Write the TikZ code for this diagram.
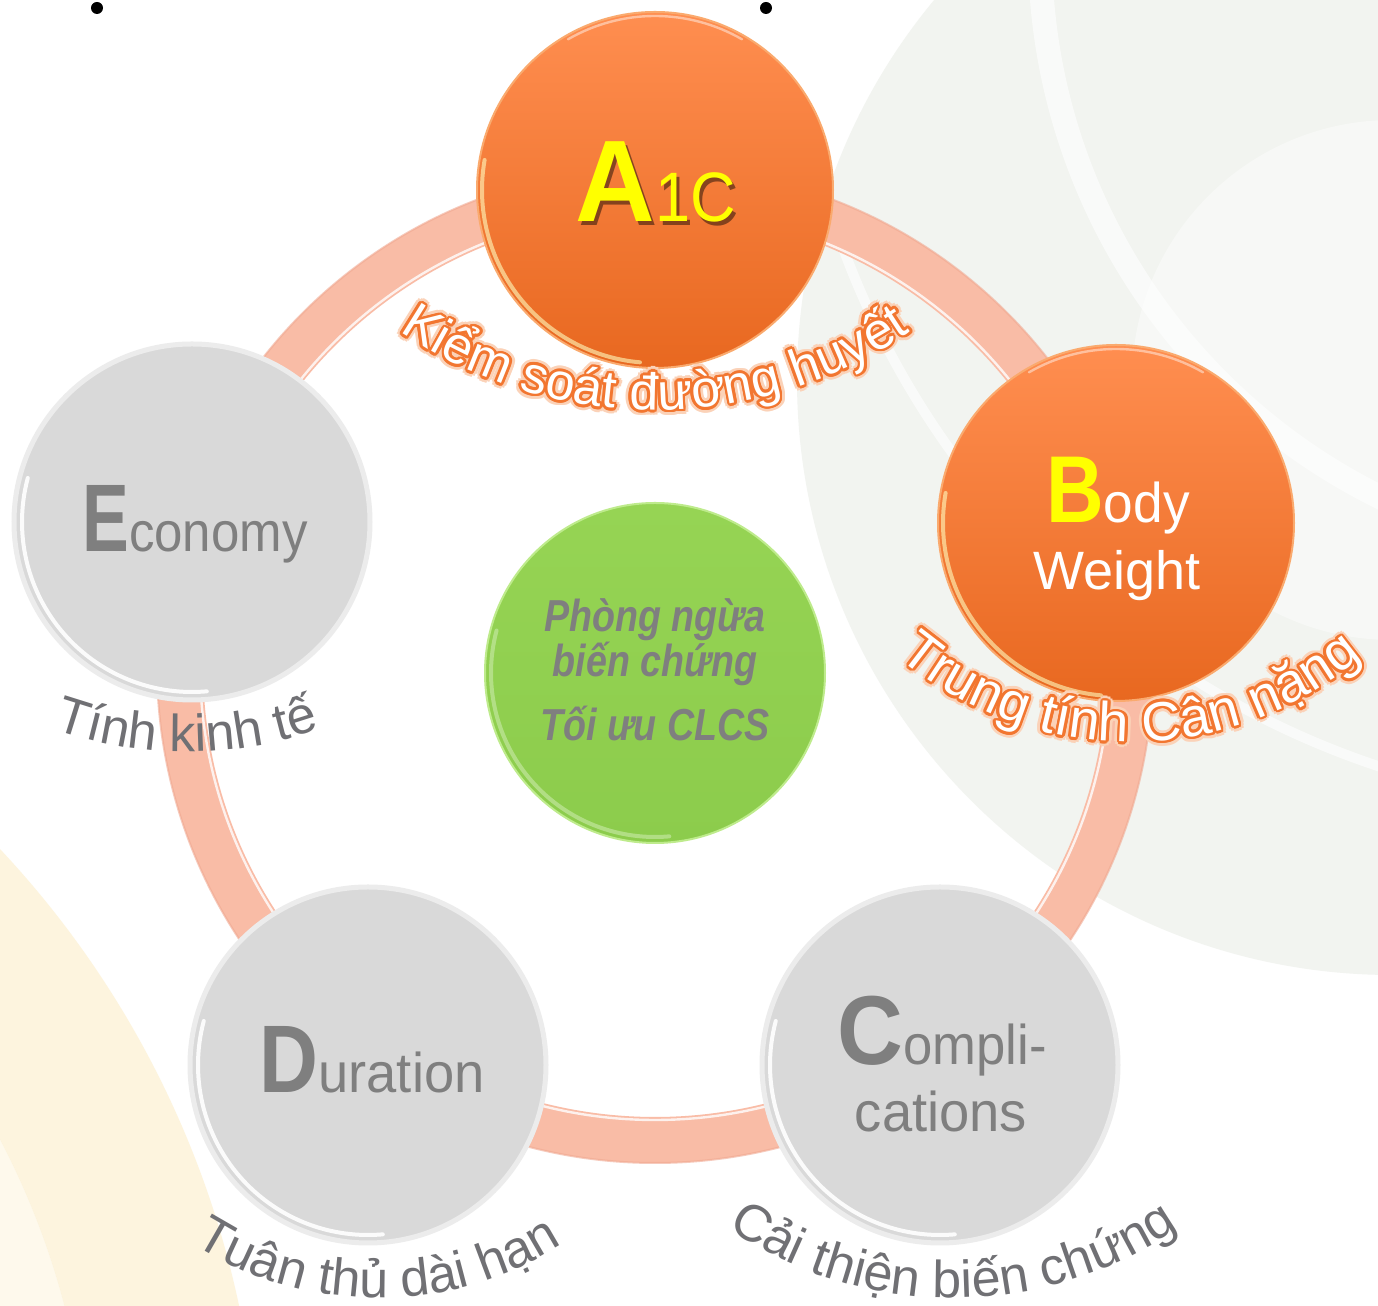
\documentclass[tikz,border=0pt]{standalone}
\usepackage{fontspec}
\setmainfont{Liberation Sans}
\usepackage{graphicx}
\usetikzlibrary{decorations.text}
\definecolor{ringc}{RGB}{249,188,166}
\definecolor{ringd}{RGB}{240,168,145}
\definecolor{orTop}{RGB}{255,142,80}
\definecolor{orBot}{RGB}{232,104,32}
\definecolor{orRim}{RGB}{250,170,110}
\definecolor{greyball}{RGB}{217,217,217}
\definecolor{greyRim}{RGB}{236,236,236}
\definecolor{greytext}{RGB}{127,127,127}
\definecolor{gnTop}{RGB}{150,212,84}
\definecolor{gnBot}{RGB}{140,204,76}
\definecolor{gnRim}{RGB}{190,235,140}
\definecolor{outl}{RGB}{242,118,48}
\definecolor{glowc}{RGB}{251,210,184}
\definecolor{arctext}{RGB}{112,112,116}
\definecolor{bgA}{RGB}{242,244,240}
\definecolor{bgY}{RGB}{252,234,190}
\definecolor{yel}{RGB}{255,255,0}
\newcommand\cf{\fontsize{26}{26}\selectfont}
\newcommand\outlinedarc[5]{%
  \foreach \aa in {0,30,...,330}{
    \path[decorate, decoration={text along path, text align=center, text color=glowc, text={|\cf|#5}}] ([shift={(\aa:5.5)}]#1) ++(#3:#2) arc[start angle=#3, end angle=#4, radius=#2];
  }
  \foreach \aa in {0,22.5,...,337.5}{
    \path[decorate, decoration={text along path, text align=center, text color=outl, text={|\cf|#5}}] ([shift={(\aa:2.6)}]#1) ++(#3:#2) arc[start angle=#3, end angle=#4, radius=#2];
  }
  \path[decorate, decoration={text along path, text align=center, text color=white, text={|\cf|#5}}] (#1) ++(#3:#2) arc[start angle=#3, end angle=#4, radius=#2];
}
\newcommand\greyarc[5]{%
  \path[decorate, decoration={text along path, text align=center, text color=arctext, text={|\cf|#5}}] (#1) ++(#3:#2) arc[start angle=#3, end angle=#4, radius=#2];
}
\begin{document}
\begin{tikzpicture}[x=0.5pt,y=0.5pt,
  ball/.style={circle, inner sep=0pt, minimum size=178pt},
  orball/.style={ball, top color=orTop, bottom color=orBot, draw=orRim, line width=1pt},
  grball/.style={ball, fill=greyball, draw=greyRim, line width=2.5pt},
  gnball/.style={ball, minimum size=170pt, top color=gnTop, bottom color=gnBot, draw=gnRim, line width=1pt},
  gloss/.style={line width=2pt, draw opacity=.6, line cap=round},
  lbl/.style={anchor=base, inner sep=0pt}]
\useasboundingbox (0,0) rectangle (1378,1306);
\fill[white] (0,0) rectangle (1378,1306);
% background decoration
\begin{scope}
\clip (0,0) rectangle (1378,1306);
\coordinate (bgc) at (1392,926);
\fill[bgA] (bgc) circle[radius=595];
\begin{scope}
\clip (bgc) circle[radius=595];
\draw[white, line width=12pt, draw opacity=.6] (1650,1356) circle[radius=610];
\draw[white, line width=5pt, draw opacity=.6] (1650,1356) circle[radius=860];
\fill[white, opacity=.4] (1392,926) circle[radius=260];
\end{scope}
\coordinate (byc) at (-700,-200);
\fill[bgY, opacity=.5, even odd rule] (byc) circle[radius=960] (byc) circle[radius=790];
\fill[bgY, opacity=.28] (byc) circle[radius=790];
\end{scope}
% dots
\fill[black] (97,1298) circle[radius=6];
\fill[black] (766,1298) circle[radius=6];
% ring
\coordinate (O) at (655,641);
\draw[ringc, line width=23pt] (O) circle[radius=475];
\draw[ringd, line width=1pt, draw opacity=.6] (O) circle[radius=498];
\draw[white, line width=1.2pt, draw opacity=.8] (O) circle[radius=455];
% balls
\node[orball] (A) at (655,1116) {};
\node[orball] (B) at (1116,783) {};
\node[grball] (E) at (192,784) {};
\node[grball] (D) at (368,241) {};
\node[grball] (C) at (940,241) {};
\node[gnball] (G) at (655,633) {};
% gloss highlights
\foreach \n in {A,B}{
  \draw[gloss, white!75!yellow] (\n) ++(170:173) arc[start angle=170, end angle=265, radius=173];
  \draw[gloss, white, line width=1.2pt, draw opacity=.45] (\n) ++(60:174) arc[start angle=60, end angle=120, radius=174];
}
\foreach \n in {E,D,C}{
  \draw[gloss, white, draw opacity=.9] (\n) ++(165:170) arc[start angle=165, end angle=275, radius=170];
}
\draw[gloss, white!50!gnTop] (G) ++(165:164) arc[start angle=165, end angle=275, radius=164];
% ball texts
\node[lbl, text=black, opacity=.45] at (659,1080) {\scalebox{.95}[1]{\fontsize{58}{58}\selectfont\bfseries A}\scalebox{.9}[1]{\fontsize{35}{35}\selectfont 1C}};
\node[lbl, text=yel] (tA) at (656,1084) {\scalebox{.95}[1]{\fontsize{58}{58}\selectfont\bfseries A}\scalebox{.9}[1]{\fontsize{35}{35}\selectfont 1C}};
\node[lbl, text=white] (tB1) at (1118,783) {\textcolor{yel}{\scalebox{.84}[1]{\fontsize{47.5}{47.5}\selectfont\bfseries B}}\scalebox{.95}[1]{\fontsize{28}{28}\selectfont ody}};
\node[lbl, text=white] (tB2) at (1117,716) {\fontsize{27}{27}\selectfont Weight};
\node[lbl, text=greytext] (tE) at (195,754) {\scalebox{.73}[1]{\fontsize{48}{48}\selectfont\bfseries E}\scalebox{.91}[1]{\fontsize{28}{28}\selectfont conomy}};
\node[lbl, text=greytext] (tD) at (372,213) {\scalebox{.85}[1]{\fontsize{48}{48}\selectfont\bfseries D}\scalebox{.97}[1]{\fontsize{28}{28}\selectfont uration}};
\node[lbl, text=greytext] (tC1) at (942,241) {\scalebox{.93}[1]{\fontsize{49}{49}\selectfont\bfseries C}\scalebox{.94}[1]{\fontsize{28}{28}\selectfont ompli-}};
\node[lbl, text=greytext] (tC2) at (941,174) {\scalebox{.97}[1]{\fontsize{28}{28}\selectfont cations}};
\node[lbl, text=greytext] (tG1) at (655,674) {\scalebox{.84}[1]{\fontsize{22.4}{22.4}\selectfont\bfseries\itshape Phòng ngừa}};
\node[lbl, text=greytext] (tG2) at (655,629) {\scalebox{.84}[1]{\fontsize{22.4}{22.4}\selectfont\bfseries\itshape biến chứng}};
\node[lbl, text=greytext] (tG3) at (655,565) {\scalebox{.84}[1]{\fontsize{22.4}{22.4}\selectfont\bfseries\itshape Tối ưu CLCS}};
% curved texts
\coordinate (kc) at (655,1351);
\coordinate (tc) at (1130,923);
\coordinate (ec) at (187,949);
\coordinate (dc) at (378,351);
\coordinate (cc) at (953,406);
\outlinedarc{kc}{455}{225}{315}{Kiểm soát đường huyết}
\renewcommand\cf{\fontsize{27.5}{27.5}\selectfont}
\outlinedarc{tc}{359}{220}{320}{Trung tính Cân nặng}
\renewcommand\cf{\fontsize{26}{26}\selectfont}
\greyarc{ec}{395}{240}{300}{Tính kinh tế}
\greyarc{dc}{343}{220}{320}{Tuân thủ dài hạn}
\greyarc{cc}{398}{225}{315}{Cải thiện biến chứng}
\end{tikzpicture}
\end{document}
